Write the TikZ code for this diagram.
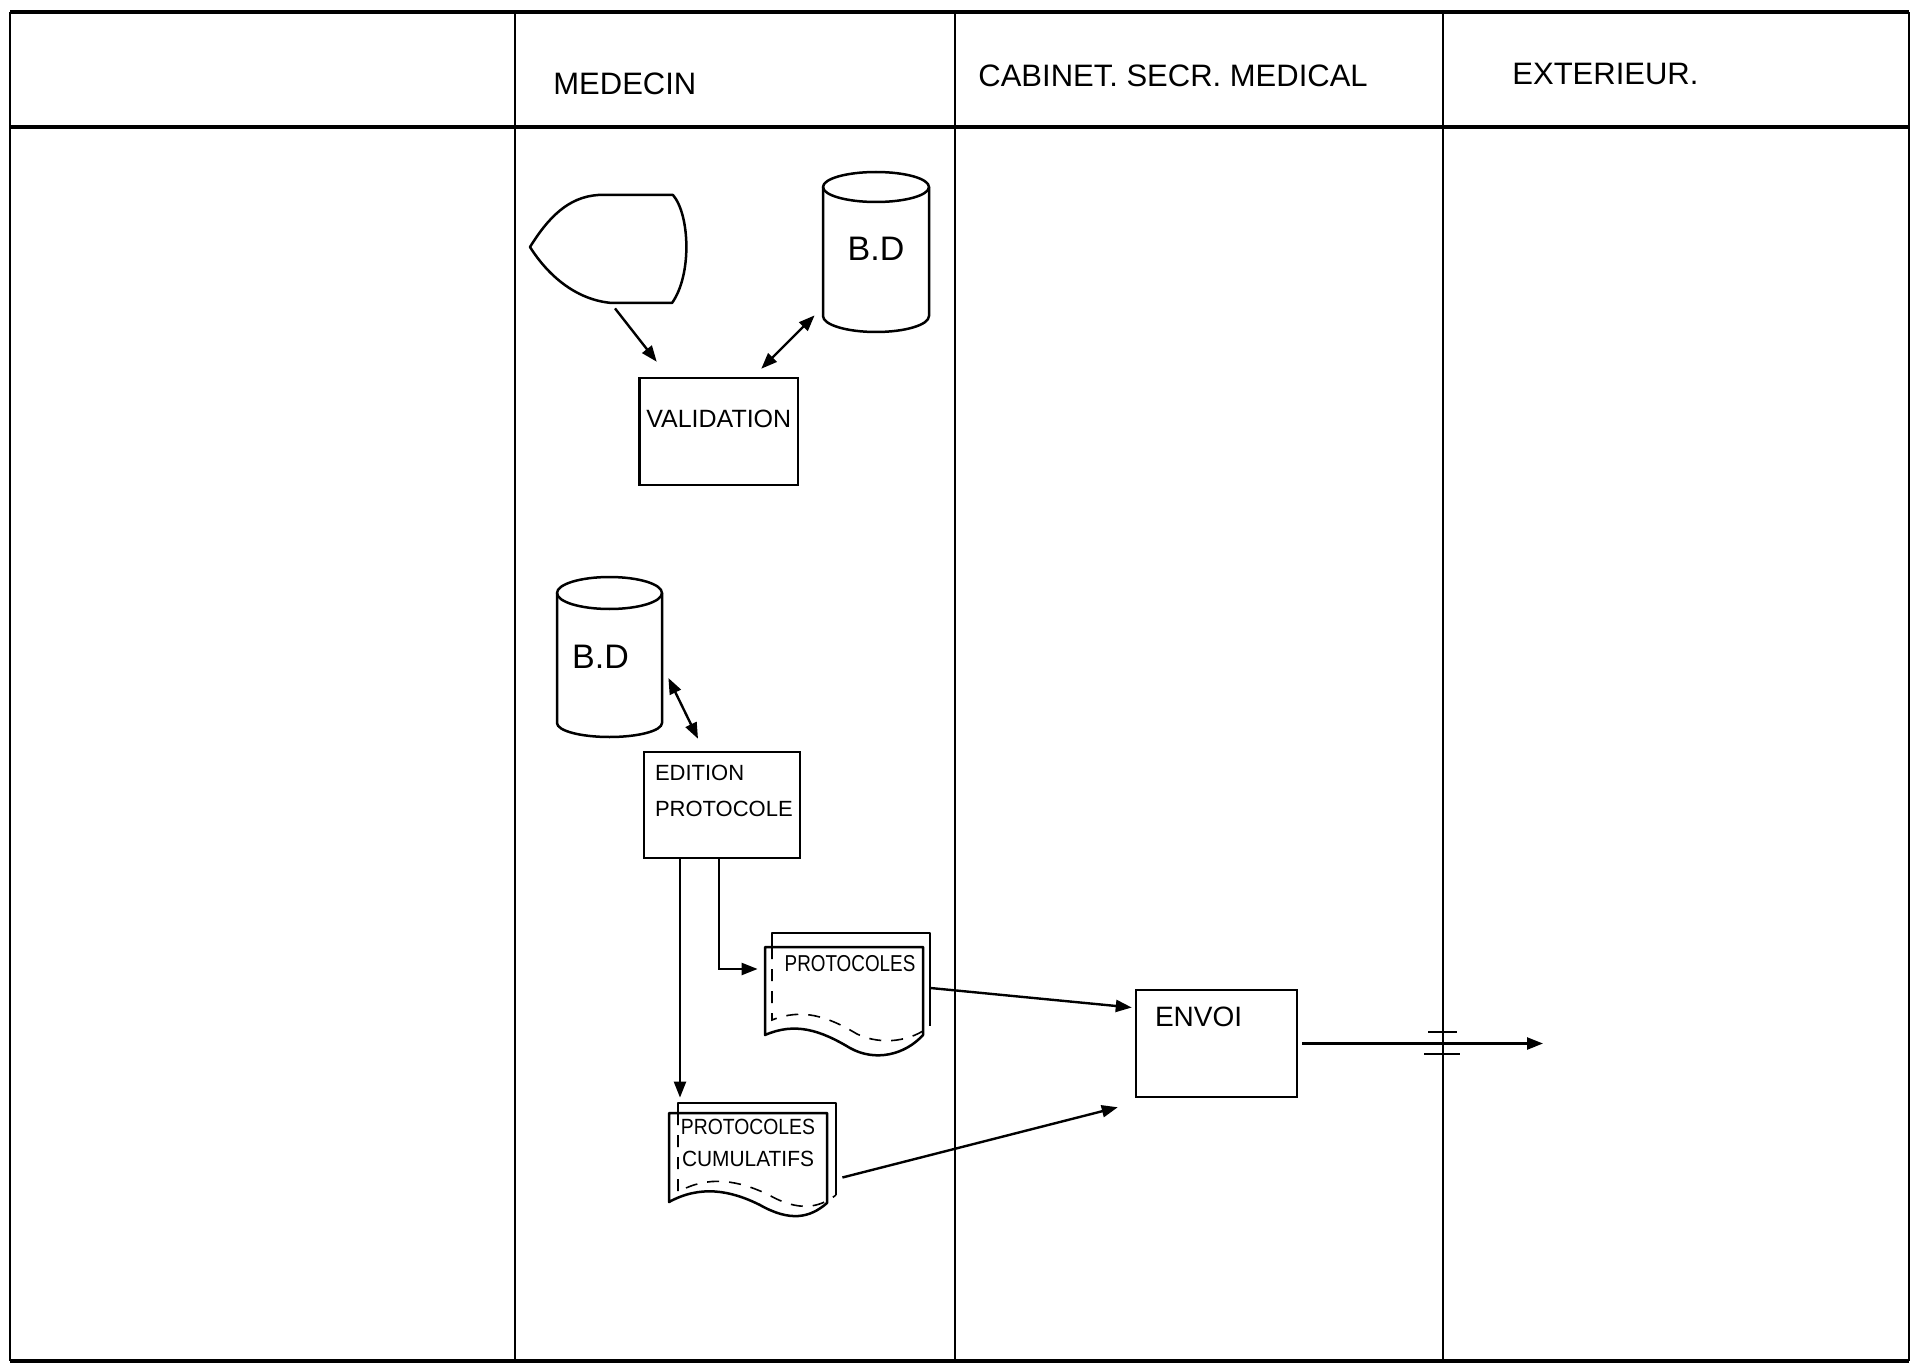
\documentclass[tikz,border=0pt]{standalone}
\usepackage{fontspec}
\usepackage{graphicx}
\setmainfont{Liberation Sans}
\usetikzlibrary{arrows.meta,calc}
\tikzset{
  shp/.style={line width=1.25pt, line join=round},
  lane/.style={line width=1.1pt},
  rulel/.style={line width=1.8pt},
  hid/.style={line width=0.8pt, dash pattern=on 6pt off 5pt},
  arr/.style={line width=1.2pt, -{Triangle[length=8pt,width=6pt]}},
  darr/.style={line width=1.2pt, {Triangle[length=8pt,width=6pt]}-{Triangle[length=8pt,width=6pt]}},
  hdr/.style={anchor=west, inner sep=0pt, font=\fontsize{15.5}{18}\selectfont},
  procbox/.style={draw, line width=1.25pt, inner sep=0pt},
  area/.style={inner sep=0pt},
}
\begin{document}
\begin{tikzpicture}[x=0.5pt,y=-0.5pt]
\useasboundingbox (0,0) rectangle (1912,1364);
\fill[white] (0,0) rectangle (1912,1364);
% swimlane frame
\draw[rulel] (10,12) -- (1909,12);
\draw[rulel] (10,127) -- (1909,127);
\draw[rulel] (10,1361) -- (1909,1361);
\draw[lane] (10,12) -- (10,1361);
\draw[lane] (515,12) -- (515,1361);
\draw[lane] (955,12) -- (955,1361);
\draw[lane] (1443,12) -- (1443,1361);
\draw[lane] (1909,12) -- (1909,1361);
% headers
\node[hdr] (hmed) at (553,84) {MEDECIN};
\node[hdr] (hcab) at (978,76) {CABINET. SECR. MEDICAL};
\node[hdr] (hext) at (1512,74) {EXTERIEUR.};
% display shape
\draw[shp, fill=white] (530,247) .. controls (548,218) and (568,197) .. (598,195) -- (673,195)
  .. controls (690,215) and (692,275) .. (672,303) -- (612,303)
  .. controls (575,300) and (547,274) .. (530,247) -- cycle;
\node[area, minimum width=77pt, minimum height=54pt] (disp) at (607,249) {};
% cylinder 1
\draw[shp, fill=white] (823,187) -- (823,316) arc[start angle=180, end angle=360, x radius=26.5pt, y radius=8pt]
  -- (929,187) arc[start angle=0, end angle=180, x radius=26.5pt, y radius=7.5pt] -- cycle;
\draw[shp] (823,187) arc[start angle=180, end angle=360, x radius=26.5pt, y radius=7.5pt];
\node[area, minimum width=53pt, minimum height=80pt, font=\fontsize{17}{20}\selectfont] (bd1) at (876,252) {\raisebox{3.5pt}{B.D}};
% cylinder 2
\draw[shp, fill=white] (557,593) -- (557,723) arc[start angle=180, end angle=360, x radius=26.25pt, y radius=7pt]
  -- (662,593) arc[start angle=0, end angle=180, x radius=26.25pt, y radius=8pt] -- cycle;
\draw[shp] (557,593) arc[start angle=180, end angle=360, x radius=26.25pt, y radius=8pt];
\node[area, minimum width=52.5pt, minimum height=80pt, font=\fontsize{17}{20}\selectfont] (bd2) at (609.5,657) {\hspace*{-9pt}B.D};
% process boxes
\node[procbox] (valid) at (718.75,431.5) {\parbox[c][53.5pt][t]{79.25pt}{\centering\vspace*{16pt}\fontsize{12.5}{14}\selectfont VALIDATION}};
\node[procbox] (ed) at (722,805) {\parbox[c][53pt][t]{78pt}{\fontsize{11}{18}\selectfont\raggedright\leftskip=5.5pt\relax\vspace*{6.5pt}EDITION\\PROTOCOLE}};
\node[procbox] (envoi) at (1216.5,1043.5) {\parbox[c][53.5pt][t]{80.5pt}{\fontsize{14}{16}\selectfont\raggedright\leftskip=9.5pt\relax\vspace*{8.5pt}ENVOI}};
% document PROTOCOLES
\draw[shp] (772,947) -- (772,933) -- (930,933) -- (930,1026);
\draw[hid] (772,947) -- (772,1020) .. controls (802,1008) and (827,1016) .. (857,1034) .. controls (882,1046) and (912,1041) .. (930,1026);
\draw[shp] (765,1035) -- (765,947) -- (923,947) -- (923,1035)
  .. controls (905,1055) and (875,1062) .. (850,1048) .. controls (820,1030) and (795,1022) .. (765,1035) -- cycle;
\node[area] (prot) at (844,991) {\parbox[c][44pt][t]{79pt}{\centering\fontsize{11.5}{12}\selectfont\vspace*{4pt}\hspace*{6pt}\scalebox{0.82}[1]{PROTOCOLES}}};
% document PROTOCOLES CUMULATIFS
\draw[shp] (678,1113) -- (678,1103) -- (836,1103) -- (836,1195);
\draw[hid] (678,1113) -- (678,1192) .. controls (708,1175) and (738,1180) .. (769,1195) .. controls (799,1212) and (819,1208) .. (836,1195);
\draw[shp] (669,1202) -- (669,1113) -- (827,1113) -- (827,1203)
  .. controls (810,1218) and (790,1222) .. (760,1205) .. controls (730,1190) and (700,1185) .. (669,1202) -- cycle;
\node[area] (cum) at (748,1157.5) {\parbox[c][44.5pt][t]{79pt}{\centering\fontsize{11}{16}\selectfont\vspace*{3pt}\scalebox{0.88}[1]{PROTOCOLES}\\\scalebox{0.95}[1]{CUMULATIFS}}};
% connectors
\draw[arr] ($(disp.south)+(8,5)$) -- ($(valid.north)+(-62,-15)$);
\draw[darr] ($(bd1.south west)+(-8,-17)$) -- ($(valid.north east)+(-38,-8)$);
\draw[darr] ($(bd2.east)+(6,21)$) -- ($(ed.north)+(-24,-12)$);
\draw[arr] ($(ed.south)+(-42,0)$) -- ($(cum.north)+(-68,-15)$);
\draw[arr] ($(ed.south)+(-3,0)$) |- ($(prot.west)+(-7,-22)$);
\draw[arr] ($(prot.east)+(7,-3)$) -- ($(envoi.west)+(-3,-36)$);
\draw[arr] ($(cum.east)+(15,20)$) -- ($(envoi.south west)+(-17,9)$);
\coordinate (ext) at (1543,1043.5);
\draw[arr] ($(envoi.east)+(4,0)$) -- (ext);
% break marks on the outgoing flow
\draw[shp] (1428,1032) -- (1457,1032);
\draw[shp] (1424,1054) -- (1460,1054);
\end{tikzpicture}
\end{document}
